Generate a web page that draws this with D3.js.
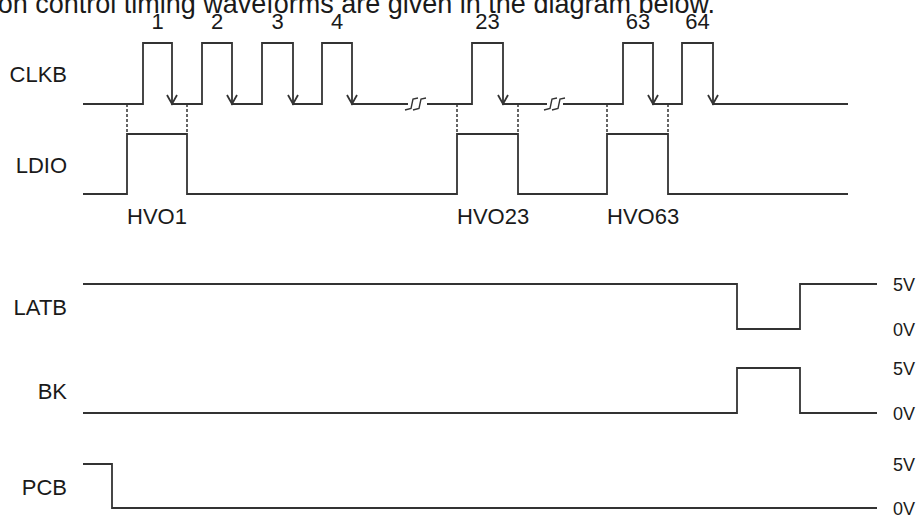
<!DOCTYPE html>
<html lang="en">
<head>
<meta charset="UTF-8">
<title>Timing waveforms</title>
<script src="https://d3js.org/d3.v7.min.js"></script>
<style>
    body { margin: 0; background: #fff; }
    svg { display: block; font-family: "Liberation Sans", Arial, sans-serif; }
    path.wave { fill: none; stroke: #333; stroke-width: 1.8px; }
    path.dash { fill: none; stroke: #333; stroke-width: 1.5px; stroke-dasharray: 3 2; }
    text { fill: #1a1a1a; }
</style>
</head>
<body>
<div id="container"></div>
<script>
// DATA (time in arbitrary units, levels 0 = low, 1 = high)
const signalNames = ["CLKB", "LDIO", "LATB", "BK", "PCB"];
const clkNumbers = ["1", "2", "3", "4", "23", "63", "64"];
const clkRise = [6.0, 11.9, 17.9, 23.9, 38.9, 54.0, 59.9];
const clkFall = [8.9, 14.9, 21.0, 26.9, 42.0, 57.0, 63.0];
const breakStart = [32.5, 46.4];
const breakEnd = [34.4, 48.0];
const ldioRise = [4.4, 37.4, 52.4];
const ldioFall = [10.4, 43.5, 58.5];
const hvoLabels = ["HVO1", "HVO23", "HVO63"];
const latbLow = [65.4, 71.7];
const bkHigh = [65.4, 71.7];
const pcbFall = 2.9;
const topEnd = 76.5;   // CLKB / LDIO end
const bottomEnd = 79.4; // LATB / BK / PCB end
const voltLabels = ["5V", "0V"];

// 1. PREPARATION
const width = 924, height = 519;
const svg = d3.select("#container").append("svg")
    .attr("width", width).attr("height", height);

const x = d3.scaleLinear().domain([0, 80]).range([83, 883]);

// lanes: [low y, high y]
const lanes = {
    CLKB: [104, 43],
    LDIO: [194, 134],
    LATB: [329, 284],
    BK: [413, 368],
    PCB: [508, 464]
};
const yOf = {};
signalNames.forEach(function (n) {
    yOf[n] = d3.scaleLinear().domain([0, 1]).range(lanes[n]);
});

function line(name) {
    return d3.line()
        .defined(function (d) { return !d.gap; })
        .x(function (d) { return x(d.t); })
        .y(function (d) { return yOf[name](d.v); });
}

// build step points from edge lists
function pulses(start, rises, falls, end, base) {
    const pts = [{ t: start, v: base }];
    rises.forEach(function (r, i) {
        pts.push({ t: r, v: base }, { t: r, v: 1 - base },
                 { t: falls[i], v: 1 - base }, { t: falls[i], v: base });
    });
    pts.push({ t: end, v: base });
    return pts;
}

// 2. DRAWING
// CLKB with break gaps
let clk = pulses(0, clkRise, clkFall, topEnd, 0);
breakStart.forEach(function (b, i) {
    const idx = clk.findIndex(function (p) { return p.t > b; });
    clk.splice(idx, 0, { t: b, v: 0 }, { gap: true }, { t: breakEnd[i], v: 0 });
});
svg.append("path").attr("class", "wave").attr("d", line("CLKB")(clk));

// arrows on falling edges
clkFall.forEach(function (f) {
    const xf = x(f), yl = yOf.CLKB(0);
    svg.append("path").attr("class", "wave")
        .attr("d", "M" + (xf - 5) + "," + (yl - 9) + "L" + xf + "," + yl + "L" + (xf + 5) + "," + (yl - 9));
});

// break symbols (two slanted s-shapes)
breakStart.forEach(function (b, i) {
    const x0 = x(b) - 3, yl = yOf.CLKB(0);
    const g = svg.append("g").attr("transform", "translate(" + x0 + "," + yl + ")");
    [0, 8].forEach(function (dx) {
        g.append("path").attr("class", "wave").style("stroke-width", "1.4px")
            .attr("d", "M" + dx + ",6L" + (dx + 6) + ",4.5L" + (dx + 8) + ",-5L" + (dx + 13) + ",-6");
    });
});

// clock numbers
svg.selectAll("text.clkn").data(clkNumbers).enter().append("text")
    .attr("class", "clkn")
    .attr("x", function (d, i) { return x((clkRise[i] + clkFall[i]) / 2); })
    .attr("y", 29)
    .attr("text-anchor", "middle")
    .style("font-size", "22px")
    .text(function (d) { return d; });

// LDIO
svg.append("path").attr("class", "wave").attr("d", line("LDIO")(pulses(0, ldioRise, ldioFall, topEnd, 0)));

// dashed guides between CLKB low and LDIO high
ldioRise.concat(ldioFall).forEach(function (t) {
    svg.append("path").attr("class", "dash")
        .attr("d", "M" + x(t) + "," + yOf.CLKB(0) + "V" + yOf.LDIO(1));
});

svg.selectAll("text.hvo").data(hvoLabels).enter().append("text")
    .attr("class", "hvo")
    .attr("x", function (d, i) { return x(ldioRise[i]); })
    .attr("y", 224)
    .style("font-size", "22px")
    .text(function (d) { return d; });

// LATB, BK, PCB
svg.append("path").attr("class", "wave").attr("d", line("LATB")(pulses(0, [latbLow[0]], [latbLow[1]], bottomEnd, 1)));
svg.append("path").attr("class", "wave").attr("d", line("BK")(pulses(0, [bkHigh[0]], [bkHigh[1]], bottomEnd, 0)));
svg.append("path").attr("class", "wave").attr("d", line("PCB")([
    { t: 0, v: 1 }, { t: pcbFall, v: 1 }, { t: pcbFall, v: 0 }, { t: bottomEnd, v: 0 }]));

// voltage labels
["LATB", "BK", "PCB"].forEach(function (n) {
    svg.selectAll(null).data(voltLabels).enter().append("text")
        .attr("x", 893)
        .attr("y", function (d) { return yOf[n](d === "5V" ? 1 : 0) + 1; })
        .attr("dy", "0.35em")
        .style("font-size", "18px")
        .text(function (d) { return d; });
});

// signal names
svg.selectAll("text.sig").data(signalNames).enter().append("text")
    .attr("class", "sig")
    .attr("x", 67)
    .attr("y", function (d) { return (lanes[d][0] + lanes[d][1]) / 2 + 1; })
    .attr("dy", "0.35em")
    .attr("text-anchor", "end")
    .style("font-size", "22px")
    .text(function (d) { return d; });

// title (cut at the top edge, as in the source image)
svg.append("text")
    .attr("x", 715).attr("y", 13)
    .attr("text-anchor", "end")
    .style("font-size", "27px")
    .text("The operation control timing waveforms are given in the diagram below.");
</script>
</body>
</html>
